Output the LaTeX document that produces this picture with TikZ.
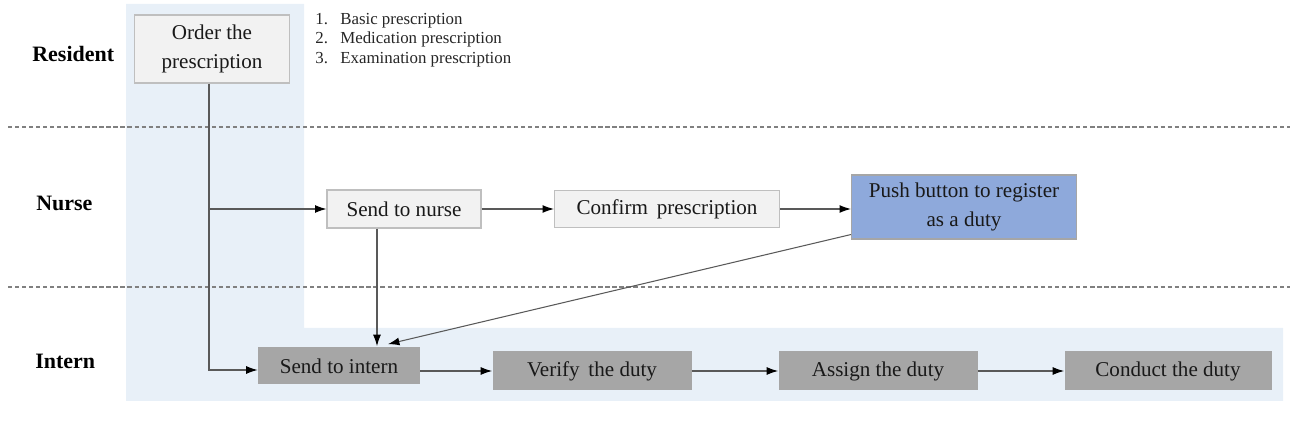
\documentclass[tikz,border=0pt]{standalone}
\usepackage{fontspec}
\setmainfont{Liberation Serif}
\usetikzlibrary{arrows.meta}
\usetikzlibrary{calc}

\definecolor{laneblue}{RGB}{232,240,248}
\definecolor{pushblue}{RGB}{142,169,219}
\definecolor{nursegray}{RGB}{242,242,242}
\definecolor{interngray}{RGB}{166,166,166}

\begin{document}
\begin{tikzpicture}[x=0.02cm, y=-0.02cm,
    dims/.style 2 args={minimum width=#1*0.02cm, minimum height=#2*0.02cm},
    flowbox/.style={inner sep=0pt, align=center, font=\fontsize{12}{16.5}\selectfont, text=black!90},
    nursebox/.style={flowbox, draw=black!25, fill=nursegray, line width=0.6pt},
    pushbox/.style={flowbox, draw=black!35, fill=pushblue, line width=0.6pt},
    internbox/.style={flowbox, fill=interngray},
    lane/.style={font=\fontsize{12.5}{15}\selectfont\bfseries, anchor=west, inner sep=0pt},
    arr/.style={-{Latex[length=6.5pt,width=4.5pt,black]}, line width=0.6pt, draw=black!65},
    lanesep/.style={draw=black!50, line width=0.8pt, dash pattern=on 2.4pt off 1.6pt}]

    \useasboundingbox (0,0) rectangle (1292,445);

    % Draw the highlighted area of the resident
    \fill[laneblue] (126,4) -- (304,4) -- (304,328) -- (1283,328) -- (1283,401) -- (126,401) -- cycle;

    % Draw lane borders
    \draw[lanesep] (8,127) -- (1290,127);
    \draw[lanesep] (8,287) -- (1290,287);

    % Lane names
    \node[lane] (resident) at (32,54) {Resident};
    \node[lane] (nurse) at (36,203) {Nurse};
    \node[lane] (intern) at (35,361) {Intern};

    % Resident
    \node[nursebox, dims={155}{68}] (order) at (212,49) {Order the\\prescription};
    \node[anchor=west, inner sep=0pt, text=black!85, font=\fontsize{9.6}{11.3}\selectfont] (kinds) at (315,40)
        {\begin{tabular}{@{}l@{\hspace{7pt}}l@{}}
         1. & Basic prescription\\
         2. & Medication prescription\\
         3. & Examination prescription
         \end{tabular}};

    % Nurse
    \node[nursebox, dims={154}{38}] (sendnurse) at (404,209) {Send to nurse};
    \node[nursebox, dims={225}{37}] (confirm) at (667,209) {Confirm\, prescription};
    \node[pushbox, dims={225}{64}] (push) at (964,207) {Push button to register\\as a duty};

    % Intern
    \node[internbox, dims={162}{37}] (sendintern) at (339,366) {Send to intern};
    \node[internbox, dims={199}{39}] (verify) at (592,371) {Verify\, the duty};
    \node[internbox, dims={199}{39}] (assign) at (878,371) {Assign the duty};
    \node[internbox, dims={207}{39}] (conduct) at (1168,371) {Conduct the duty};

    % Arrow tips on top of send to intern
    \coordinate (inA) at ($(sendintern.north)+(38,-1)$);
    \coordinate (inB) at ($(sendintern.north)+(49,-3)$);
    \coordinate (split) at ($(order.south)+(-3,0)$);

    % Draw connectors
    \draw[arr] (split) |- ($(sendintern.west)+(0,4)$);
    \draw[arr] (split |- sendnurse) -- (sendnurse.west);
    \draw[arr] (sendnurse) -- (confirm);
    \draw[arr] (confirm) -- (push.west |- confirm);
    \draw[arr] (sendnurse.south -| inA) -- (inA);
    \draw[arr] ($(push.south west)+(0,-5)$) -- (inB);
    \draw[arr] (sendintern.east |- verify) -- (verify);
    \draw[arr] (verify) -- (assign);
    \draw[arr] (assign) -- (conduct);

\end{tikzpicture}
\end{document}
